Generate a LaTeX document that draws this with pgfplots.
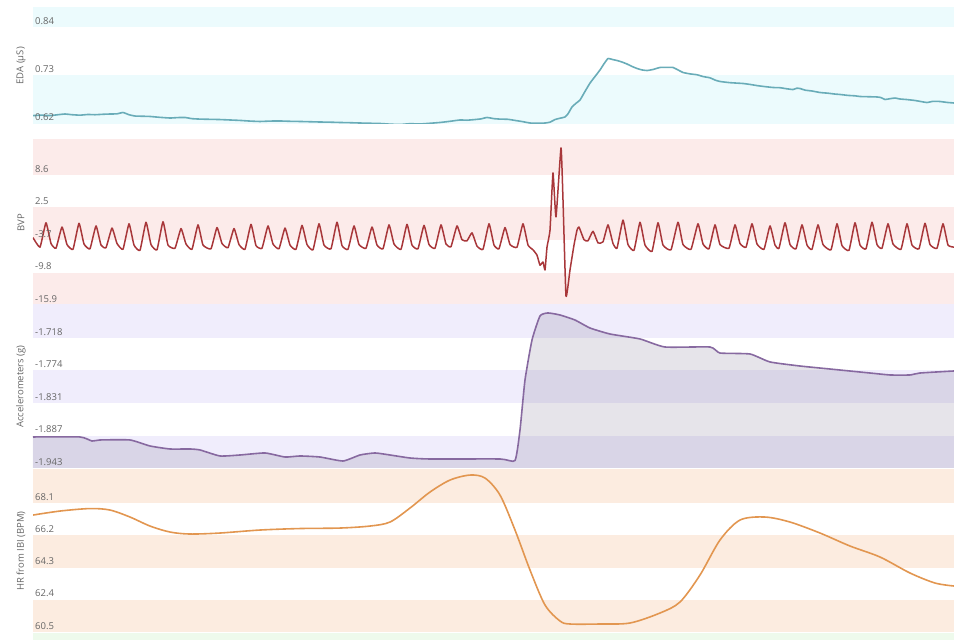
\documentclass[border=0pt]{standalone}
\usepackage{fontspec}
\setmainfont{Open Sans}
\usepackage{pgfplots}
\usepackage{pgfplotstable}
\pgfplotsset{compat=1.18}

\definecolor{edaline}{RGB}{105,172,184}
\definecolor{edaband}{RGB}{236,251,253}
\definecolor{bvpline}{RGB}{168,55,58}
\definecolor{bvpband}{RGB}{252,235,234}
\definecolor{accline}{RGB}{135,105,160}
\definecolor{accband}{RGB}{240,237,252}
\definecolor{accfill}{RGB}{128,118,150}
\definecolor{hrline}{RGB}{226,150,80}
\definecolor{hrband}{RGB}{252,236,224}
\definecolor{greenband}{RGB}{238,250,236}
\definecolor{tickc}{RGB}{102,102,102}

\pgfplotstableread{
x y
33 -1.8893
80 -1.8893
92 -1.8963
100 -1.8945
130 -1.8945
150 -1.9049
170 -1.9101
190 -1.9101
200 -1.9118
220 -1.9222
240 -1.9205
265 -1.9170
285 -1.9240
300 -1.9222
320 -1.9240
343 -1.9309
360 -1.9205
375 -1.9170
390 -1.9205
410 -1.9257
430 -1.9274
500 -1.9274
515 -1.9300
520 -1.8772
525 -1.7907
532 -1.7215
540 -1.6799
548 -1.6747
560 -1.6782
575 -1.6869
590 -1.7007
610 -1.7111
640 -1.7197
665 -1.7336
710 -1.7336
720 -1.7440
750 -1.7457
770 -1.7595
800 -1.7665
830 -1.7717
870 -1.7786
890 -1.7820
910 -1.7820
920 -1.7786
954 -1.7751
}\accdata

\pgfplotsset{panel/.style={
  scale only axis, width=921pt, xmin=33, xmax=954, axis on top,
  xtick=\empty, axis line style={draw=none}, major tick length=0pt,
  yticklabel style={anchor=south west, inner sep=1pt, xshift=1pt, yshift=1.5pt,
     font=\fontsize{9.5}{11}\selectfont, text=tickc},
  /pgf/number format/assume math mode=true,
  y label style={at={(axis description cs:-0.013,0.5)}, anchor=center,
     font=\fontsize{9.5}{11}\selectfont, text=tickc},
}}

\begin{document}
\begin{tikzpicture}
\useasboundingbox (0,0) rectangle (954pt,640pt);
\fill[greenband] (33pt,0pt) rectangle (954pt,7pt);

% EDA
\begin{axis}[panel, at={(33pt,516.5pt)}, anchor=south west, height=115.5pt,
  ymin=0.62, ymax=0.8831, ytick={0.62,0.73,0.84}, yticklabels={0.62,0.73,0.84},
  ylabel={EDA (μS)}]
\fill[edaband] (axis cs:33,0.84) rectangle (axis cs:954,0.9);
\fill[edaband] (axis cs:33,0.60) rectangle (axis cs:954,0.73);
\addplot[edaline, line width=1.6pt, line join=round, smooth, tension=0.3] coordinates {
(33,0.638) (42,0.639) (50,0.638) (58,0.640) (65,0.6416) (72,0.640) (80,0.639) (88,0.6405)
(95,0.640) (103,0.641) (110,0.6416) (117,0.642) (123,0.645) (129,0.640) (135,0.637)
(143,0.6365) (150,0.636) (160,0.634) (170,0.6325) (178,0.6335) (185,0.6337) (192,0.631)
(200,0.630) (210,0.6295) (220,0.629) (230,0.628) (240,0.627) (250,0.6255) (260,0.6246)
(270,0.6255) (280,0.6257) (290,0.625) (300,0.6246) (310,0.624) (320,0.6234) (330,0.623)
(340,0.6223) (350,0.6218) (360,0.6211) (370,0.6205) (380,0.620) (390,0.6185) (400,0.6177)
(410,0.6195) (420,0.6189) (430,0.6205) (440,0.6223) (450,0.625) (460,0.628) (467,0.6275)
(475,0.629) (481,0.6305) (487,0.6337) (494,0.631) (500,0.630) (508,0.6295) (515,0.627)
(522,0.6245) (530,0.6211) (538,0.6205) (545,0.6211) (550,0.623) (555,0.629) (560,0.632)
(565,0.6348) (568,0.642) (572,0.6576) (576,0.666) (580,0.6735) (585,0.693) (590,0.712)
(595,0.727) (600,0.7419) (604,0.756) (608,0.768) (612,0.766) (617,0.7635) (622,0.760)
(627,0.7555) (632,0.750) (637,0.7453) (642,0.742) (647,0.7407) (653,0.743) (660,0.7476)
(667,0.748) (673,0.7476) (678,0.742) (683,0.7362) (690,0.733) (697,0.731) (703,0.727)
(710,0.724) (715,0.719) (720,0.7157) (730,0.713) (743,0.7111) (750,0.709) (758,0.706)
(765,0.704) (773,0.702) (780,0.7015) (787,0.699) (793,0.6974) (797,0.7005) (800,0.6997)
(805,0.696) (812,0.694) (820,0.6906) (828,0.689) (835,0.687) (840,0.6861) (848,0.684)
(855,0.683) (860,0.6815) (868,0.681) (877,0.6804) (881,0.679) (885,0.6747) (890,0.6765)
(895,0.678) (900,0.6758) (907,0.6745) (915,0.6724) (921,0.670) (927,0.6678) (933,0.6705)
(940,0.6701) (947,0.668) (954,0.6667)
};
\end{axis}

% BVP
\begin{axis}[panel, at={(33pt,335pt)}, anchor=south west, height=165pt,
  ymin=-15.9, ymax=15.2, ytick={-15.9,-9.8,-3.7,2.5,8.6},
  yticklabels={-15.9,-9.8,-3.7,2.5,8.6}, ylabel={BVP}]
\fill[bvpband] (axis cs:33,8.6) rectangle (axis cs:954,16);
\fill[bvpband] (axis cs:33,-3.7) rectangle (axis cs:954,2.5);
\fill[bvpband] (axis cs:33,-17) rectangle (axis cs:954,-9.8);
\addplot[bvpline, line width=1.5pt, line join=round, smooth, tension=0.25] coordinates {
(33,-3.2) (40,-5.0) (46,-0.4) (51,-4.3)
(56,-5.2) (62,-1.2) (67,-4.5)
(73,-5.4) (79,-0.5) (84,-4.4)
(90,-5.3) (96,-1.0) (101,-4.6)
(106,-5.1) (112,-1.4) (117,-4.3)
(123,-5.4) (129,-0.6) (134,-4.6)
(140,-5.6) (146,-0.3) (151,-4.5)
(157,-5.5) (163,-0.2) (168,-4.6)
(175,-5.2) (181,-1.5) (186,-4.4)
(192,-5.4) (198,-0.8) (203,-4.6)
(211,-5.3) (217,-1.3) (222,-4.3)
(228,-5.1) (234,-1.5) (239,-4.5)
(245,-5.4) (251,-0.7) (256,-4.7)
(262,-5.2) (268,-1.0) (273,-4.4)
(279,-5.3) (285,-1.4) (290,-4.6)
(296,-5.4) (302,-0.9) (307,-4.5)
(313,-5.5) (319,-0.6) (324,-4.6)
(331,-5.3) (337,-0.3) (342,-4.7)
(348,-5.4) (354,-1.0) (359,-4.5)
(366,-5.2) (372,-1.2) (377,-4.6)
(383,-5.3) (389,-0.8) (394,-4.4)
(401,-5.4) (407,-0.7) (412,-4.6)
(418,-5.3) (424,-0.9) (429,-4.5)
(435,-5.2) (441,-0.8) (446,-4.4)
(451,-4.9) (457,-1.0) (462,-3.6) (467,-3.8) (472,-2.3) (477,-4.8)
(483,-5.4) (489,-0.6) (494,-4.6)
(499,-5.3) (505,-1.3) (510,-4.5)
(517,-5.0) (523,-0.6) (528,-4.6)
(533,-5.5) (537,-6.5) (540,-8.4) (543,-7.8) (545,-9.3) (547,-5.0) (550,-1.8)
(553,9.0) (556,0.7) (561,13.7) (563,3.9) (566,-14.2) (570,-9.3) (574,-4.6)
(577,-1.8) (579,-1.2) (584,-3.6) (588,-3.8) (593,-2.0) (598,-4.2) (603,-4.0)
(608,-0.8) (613,-4.3) (617,-5.2) (623,0.1) (628,-4.5) (634,-5.6) (640,-0.3)
(645,-4.6) (652,-5.8) (658,-0.4) (663,-4.6) (671,-5.5) (678,-0.3) (683,-4.5)
(691,-5.4) (698,-0.6) (703,-4.4) (709,-5.3) (715,-0.8) (720,-4.5) (729,-5.2)
(735,-0.8) (740,-4.3) (746,-5.0) (752,-0.6) (757,-4.4) (764,-5.4) (770,-1.0)
(775,-4.6) (779,-5.2) (785,-0.4) (790,-4.5) (796,-5.3) (802,-0.8) (807,-4.6)
(812,-5.4) (818,-0.8) (823,-4.5) (831,-5.5) (837,-0.6) (842,-4.7) (849,-5.6)
(855,-0.4) (860,-4.6) (866,-5.3) (872,-0.3) (877,-4.5) (882,-5.2) (888,-0.6)
(893,-4.4) (901,-5.4) (907,-0.6) (912,-4.6) (919,-5.3) (925,-0.5) (930,-4.5)
(937,-5.2) (943,-0.6) (948,-4.6) (954,-5.0)
};
\end{axis}

% Accelerometers (plotted relative to the axis bottom, -1.943)
\begin{axis}[panel, at={(33pt,172pt)}, anchor=south west, height=163pt,
  ymin=0, ymax=0.2821, ytick={0,0.056,0.112,0.169,0.225},
  yticklabels={-1.943,-1.887,-1.831,-1.774,-1.718}, ylabel={Accelerometers (g)}]
\fill[accband] (axis cs:33,0.225) rectangle (axis cs:954,0.3);
\fill[accband] (axis cs:33,0.112) rectangle (axis cs:954,0.169);
\fill[accband] (axis cs:33,-0.01) rectangle (axis cs:954,0.056);
\addplot[draw=none, fill=accfill, fill opacity=0.2, smooth, tension=0.3] table[x=x, y expr=\thisrow{y}+1.943] {\accdata} \closedcycle;
\addplot[accline, line width=1.6pt, line join=round, smooth, tension=0.3] table[x=x, y expr=\thisrow{y}+1.943] {\accdata};
\end{axis}

% HR
\begin{axis}[panel, at={(33pt,8pt)}, anchor=south west, height=162pt,
  ymin=60.5, ymax=70.05, ytick={60.5,62.4,64.3,66.2,68.1},
  yticklabels={60.5,62.4,64.3,66.2,68.1}, ylabel={HR from IBI (BPM)}]
\fill[hrband] (axis cs:33,68.1) rectangle (axis cs:954,71);
\fill[hrband] (axis cs:33,64.3) rectangle (axis cs:954,66.2);
\fill[hrband] (axis cs:33,60) rectangle (axis cs:954,62.4);
\addplot[hrline, line width=1.6pt, smooth, tension=0.5] coordinates {
(33,67.394) (60,67.630) (90,67.777) (110,67.689) (130,67.277) (150,66.746)
(170,66.393) (190,66.275) (220,66.334) (260,66.511) (300,66.599) (340,66.628)
(370,66.746) (390,66.982) (410,67.807) (430,68.750) (450,69.457) (470,69.752)
(485,69.575) (500,68.573) (515,66.511) (530,64.153) (545,62.091) (560,61.148)
(570,60.971) (600,60.971) (630,61.030) (660,61.619) (680,62.268) (700,63.859)
(720,65.921) (740,67.100) (765,67.277) (790,66.982) (820,66.334) (850,65.568)
(880,64.920) (910,63.977) (935,63.387) (954,63.211)
};
\end{axis}
\end{tikzpicture}
\end{document}
